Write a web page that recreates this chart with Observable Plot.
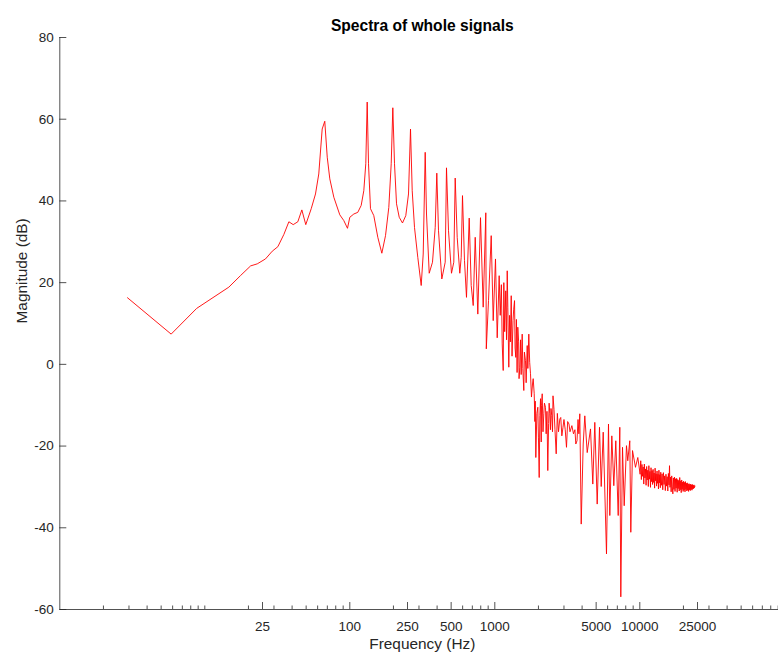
<!DOCTYPE html>
<html>
<head>
<meta charset="utf-8">
<script src="https://cdn.jsdelivr.net/npm/d3@7"></script>
<script src="https://cdn.jsdelivr.net/npm/@observablehq/plot@0.6"></script>
<style>
  html, body { margin: 0; padding: 0; background: #fff; overflow: hidden; }
  #chart svg { display: block; }
</style>
</head>
<body>
<div id="chart"></div>
<script>
// ---- data ----
const titleText = "Spectra of whole signals";
const xLabel = "Frequency (Hz)";
const yLabel = "Magnitude (dB)";

const xTickValues = [25, 100, 250, 500, 1000, 5000, 10000, 25000];
const yTickValues = [-60, -40, -20, 0, 20, 40, 60, 80];

// low band: 2.9 Hz .. ~1.1 kHz
const freqLow = [2.93, 5.86, 8.79, 14.65, 17.6, 20.7, 23.0, 26.2, 29.2, 31.9, 35.1, 38.0, 40.7, 43.8, 46.7, 49.7,
  54.2, 58.0, 61.1, 64.5, 67.2, 69.9, 72.8, 77.6, 85.3, 90.9, 96.4, 100, 106.6, 113.5, 119.8, 124.9, 128.9,
  131.8, 134.6, 138.9, 146.4, 156.0, 166.3, 176.3, 185.8, 193.0, 198.0, 203.4, 210.0, 219.2, 230.9, 243.3,
  254.0, 262.2, 269.4, 279.4, 294.4, 310.7, 320.8, 331.1, 338.1, 352.9, 371.8, 388.2, 398.1, 409.0, 431.1,
  454.9, 464.4, 479.4, 502.7, 521.4, 533.2, 550.4, 573.6, 586.5, 598.7, 618.0, 638.0, 666.0, 687.5, 709.7,
  732.6, 763.6, 797.0, 831.8, 866.8, 873.7, 904.9, 944.5, 975.0, 1011, 1039, 1072];
const magLow = [16.3, 7.4, 13.7, 18.9, 21.7, 24.1, 24.6, 25.8, 27.7, 28.8, 31.8, 34.9, 34.2, 34.9, 37.8, 34.2,
  38.1, 41.7, 46.6, 57.6, 59.5, 50.7, 45.4, 40.9, 36.6, 35.2, 33.3, 36.0, 36.8, 37.2, 38.9, 42.5, 49.1,
  64.2, 49.1, 38.1, 36.4, 31.1, 27.2, 31.5, 38.4, 49.1, 62.8, 49.1, 39.3, 36.0, 34.6, 36.4,
  41.7, 57.6, 42.5, 33.5, 26.2, 19.3, 27.0, 51.9, 36.8, 22.3, 25.0, 33.5, 46.8, 32.7, 20.9,
  25.0, 48.1, 32.7, 22.3, 25.0, 45.6, 31.1, 22.3, 26.2, 41.3, 25.4, 16.4, 35.8, 19.3, 14.4,
  31.1, 12.3, 35.9, 14.0, 37.1, 3.8, 15.6, 31.5, 10.7, 25.8, 6.5, 21.7];

// middle band: ~1.1 kHz .. ~10 kHz
const freqMid = [1090, 1110, 1125, 1143, 1154, 1170, 1190, 1205, 1218, 1230, 1249, 1265, 1280, 1298, 1315, 1336,
  1350, 1368, 1380, 1396, 1410, 1425, 1441, 1460, 1470, 1488, 1505, 1520, 1545, 1560, 1585, 1600, 1628, 1645,
  1673, 1690, 1716, 1740, 1763, 1790, 1820, 1840, 1870, 1890, 1900, 1918, 1950, 1980, 2000, 2024, 2045, 2067,
  2090, 2100, 2123, 2150, 2178, 2200, 2237, 2260, 2290, 2320, 2350, 2370, 2395, 2420, 2441, 2470, 2500, 2520,
  2560, 2600, 2651, 2700, 2750, 2807, 2850, 2900, 2953, 3000, 3060, 3122, 3180, 3248, 3300, 3400, 3489, 3570,
  3620, 3689, 3750, 3800, 3857, 3944, 4071, 4176, 4338, 4571, 4741, 4894, 5084, 5274, 5418, 5593, 5893, 6083,
  6211, 6412, 6618, 6832, 7097, 7280, 7396, 7598, 7806, 8094, 8262, 8531, 8668, 8906, 9339, 9687];
const magMid = [12.0, 19.5, 5.0, -1.5, 20.0, 8.0, 18.0, 6.0, 22.9, 14.0, -0.7, 12.0, 5.5, 16.8, 2.0, 10.7,
  13.5, 15.6, 4.0, 1.7, 11.0, -2.0, 9.1, 5.5, -3.5, -0.7, 6.0, -2.5, 7.4, -1.0, -6.4, 3.0, 0.9, -4.5,
  4.6, -1.0, 7.4, 0.5, -2.3, -8.0, -4.8, -3.5, -7.2, -14.0, -9.0, -22.8, -12.0, -10.5, -18.0, -27.7, -12.5, -8.4,
  -19.0, -10.0, -7.2, -16.5, -12.1, -9.5, -10.5, -17.0, -11.5, -26.0, -14.5, -9.5, -12.1, -16.0, -10.8, -12.5, -16.5, -7.7,
  -11.0, -16.0, -21.9, -12.0, -16.5, -13.4, -13.0, -17.5, -15.4, -13.5, -16.0, -20.3, -14.0, -14.6, -16.5, -15.0, -17.0, -16.0,
  -19.5, -18.7, -13.5, -17.0, -12.1, -39.1, -19.5, -12.6, -21.6, -15.8, -29.3, -14.2, -34.2, -15.4, -29.9, -16.6, -46.4, -14.6,
  -37.0, -17.5, -29.7, -18.7, -37.0, -15.4, -56.9, -20.3, -34.6, -19.9, -23.6, -18.7, -41.1, -21.1, -25.2, -22.8];

// high band: ~10 kHz .. 24 kHz, as [frequency (Hz), magnitude (dB)]
const highBand = [
  [10050, -26.9], [10150, -23.6], [10250, -28.2], [10350, -24.5], [10450, -27.4], [10550, -25.1], [10650, -29.3],
  [10750, -24.4], [10850, -27.8], [10950, -25.6], [11050, -29.6], [11150, -25.0], [11250, -28.3], [11350, -25.9],
  [11450, -29.9], [11550, -24.8], [11650, -28.1], [11750, -26.2], [11850, -30.1], [11950, -25.3], [12050, -28.7],
  [12150, -26.0], [12250, -29.4], [12350, -25.7], [12450, -28.9], [12550, -26.6], [12650, -30.3], [12750, -25.4],
  [12850, -28.5], [12950, -26.8], [13050, -29.8], [13150, -26.1], [13250, -29.1], [13350, -26.9], [13450, -30.5],
  [13550, -25.9], [13650, -29.0], [13750, -27.0], [13850, -30.2], [13950, -26.4],
  [14100, -29.6], [14250, -26.8], [14400, -30.7], [14550, -26.5], [14700, -29.4], [14850, -27.3], [15000, -30.9],
  [15150, -26.9], [15300, -29.8], [15450, -27.5], [15600, -31.0], [15750, -26.7], [15900, -29.5], [16026, -24.8],
  [16150, -30.1], [16300, -27.6], [16450, -31.2], [16600, -27.3], [16750, -30.0], [16900, -31.7], [17050, -27.8],
  [17200, -30.6], [17350, -27.6], [17500, -31.1], [17650, -28.0], [17800, -30.3], [17950, -27.9], [18100, -31.3],
  [18250, -28.2], [18400, -30.4], [18550, -28.4], [18700, -31.0], [18850, -27.7], [19000, -30.7], [19150, -28.5],
  [19300, -31.4], [19450, -28.3], [19600, -30.6], [19750, -28.8], [19900, -31.1], [20050, -28.6], [20200, -30.8],
  [20350, -28.9], [20500, -31.2], [20650, -28.7], [20800, -30.6], [20950, -29.1], [21100, -31.0], [21250, -29.0],
  [21400, -30.8], [21550, -29.3], [21700, -31.1], [21850, -29.2], [22000, -30.7], [22150, -29.4], [22300, -30.9],
  [22450, -29.3], [22600, -30.6], [22750, -29.5], [22900, -30.8], [23050, -29.4], [23200, -30.5], [23350, -29.6],
  [23500, -30.4], [23650, -29.5], [23800, -30.2], [24000, -29.8]
];

// ---- build rows ----
const rows = d3.sort([
  ...freqLow.map((f, i) => ({f, m: magLow[i]})),
  ...freqMid.map((f, i) => ({f, m: magMid[i]})),
  ...highBand.map(([f, m]) => ({f, m}))
], d => d.f);

// minor ticks: k * 10^n (k = 1..9), excluding majors
const minorTicks = [];
for (let e = 0; e <= 4; e++) for (let k = 1; k <= 9; k++) {
  const v = k * Math.pow(10, e);
  if (!xTickValues.includes(v) && v > 1) minorTicks.push(v);
}

const ink = "#262626";
const font = "'Liberation Sans', Arial, Helvetica, sans-serif";
const chart = Plot.plot({
  width: 778,
  height: 653,
  marginLeft: 59.3,
  marginRight: -6.3,
  marginTop: 37,
  marginBottom: 44,
  style: {fontFamily: font, fontSize: "13.5px", color: ink, background: "#fff"},
  x: {type: "log", domain: [1, 100000]},
  y: {domain: [-60, 80]},
  marks: [
    Plot.ruleY([-60], {stroke: ink, strokeWidth: 0.8}),
    Plot.ruleX([1], {stroke: ink, strokeWidth: 0.8}),
    Plot.axisX(minorTicks, {tickSize: -3.5, fill: "none", stroke: ink, strokeWidth: 0.8, label: null}),
    Plot.axisX(xTickValues, {tickSize: -7, fill: "none", stroke: ink, strokeWidth: 0.8, label: null}),
    Plot.text(xTickValues, {x: d => d, text: d => String(d), frameAnchor: "bottom", dy: 11.5, lineAnchor: "top", fill: ink, fontSize: 13.5}),
    Plot.axisY(yTickValues, {tickSize: -7, tickPadding: 13, tickFormat: d => String(d), stroke: ink, fill: ink, strokeWidth: 0.8, label: null}),
    Plot.line(rows, {x: "f", y: "m", stroke: "#ff0000", strokeWidth: 0.9}),
    Plot.text([titleText], {text: d => d, frameAnchor: "top", dy: -12, lineAnchor: "middle", fontWeight: "bold", fontSize: 15.6, fill: "#000"}),
    Plot.text([xLabel], {text: d => d, frameAnchor: "bottom", dy: 35, lineAnchor: "middle", fontSize: 15.4, fill: ink}),
    Plot.text([yLabel], {text: d => d, frameAnchor: "left", dx: -38, rotate: -90, lineAnchor: "middle", fontSize: 15.4, fill: ink})
  ]
});
document.getElementById("chart").appendChild(chart);
</script>
</body>
</html>
